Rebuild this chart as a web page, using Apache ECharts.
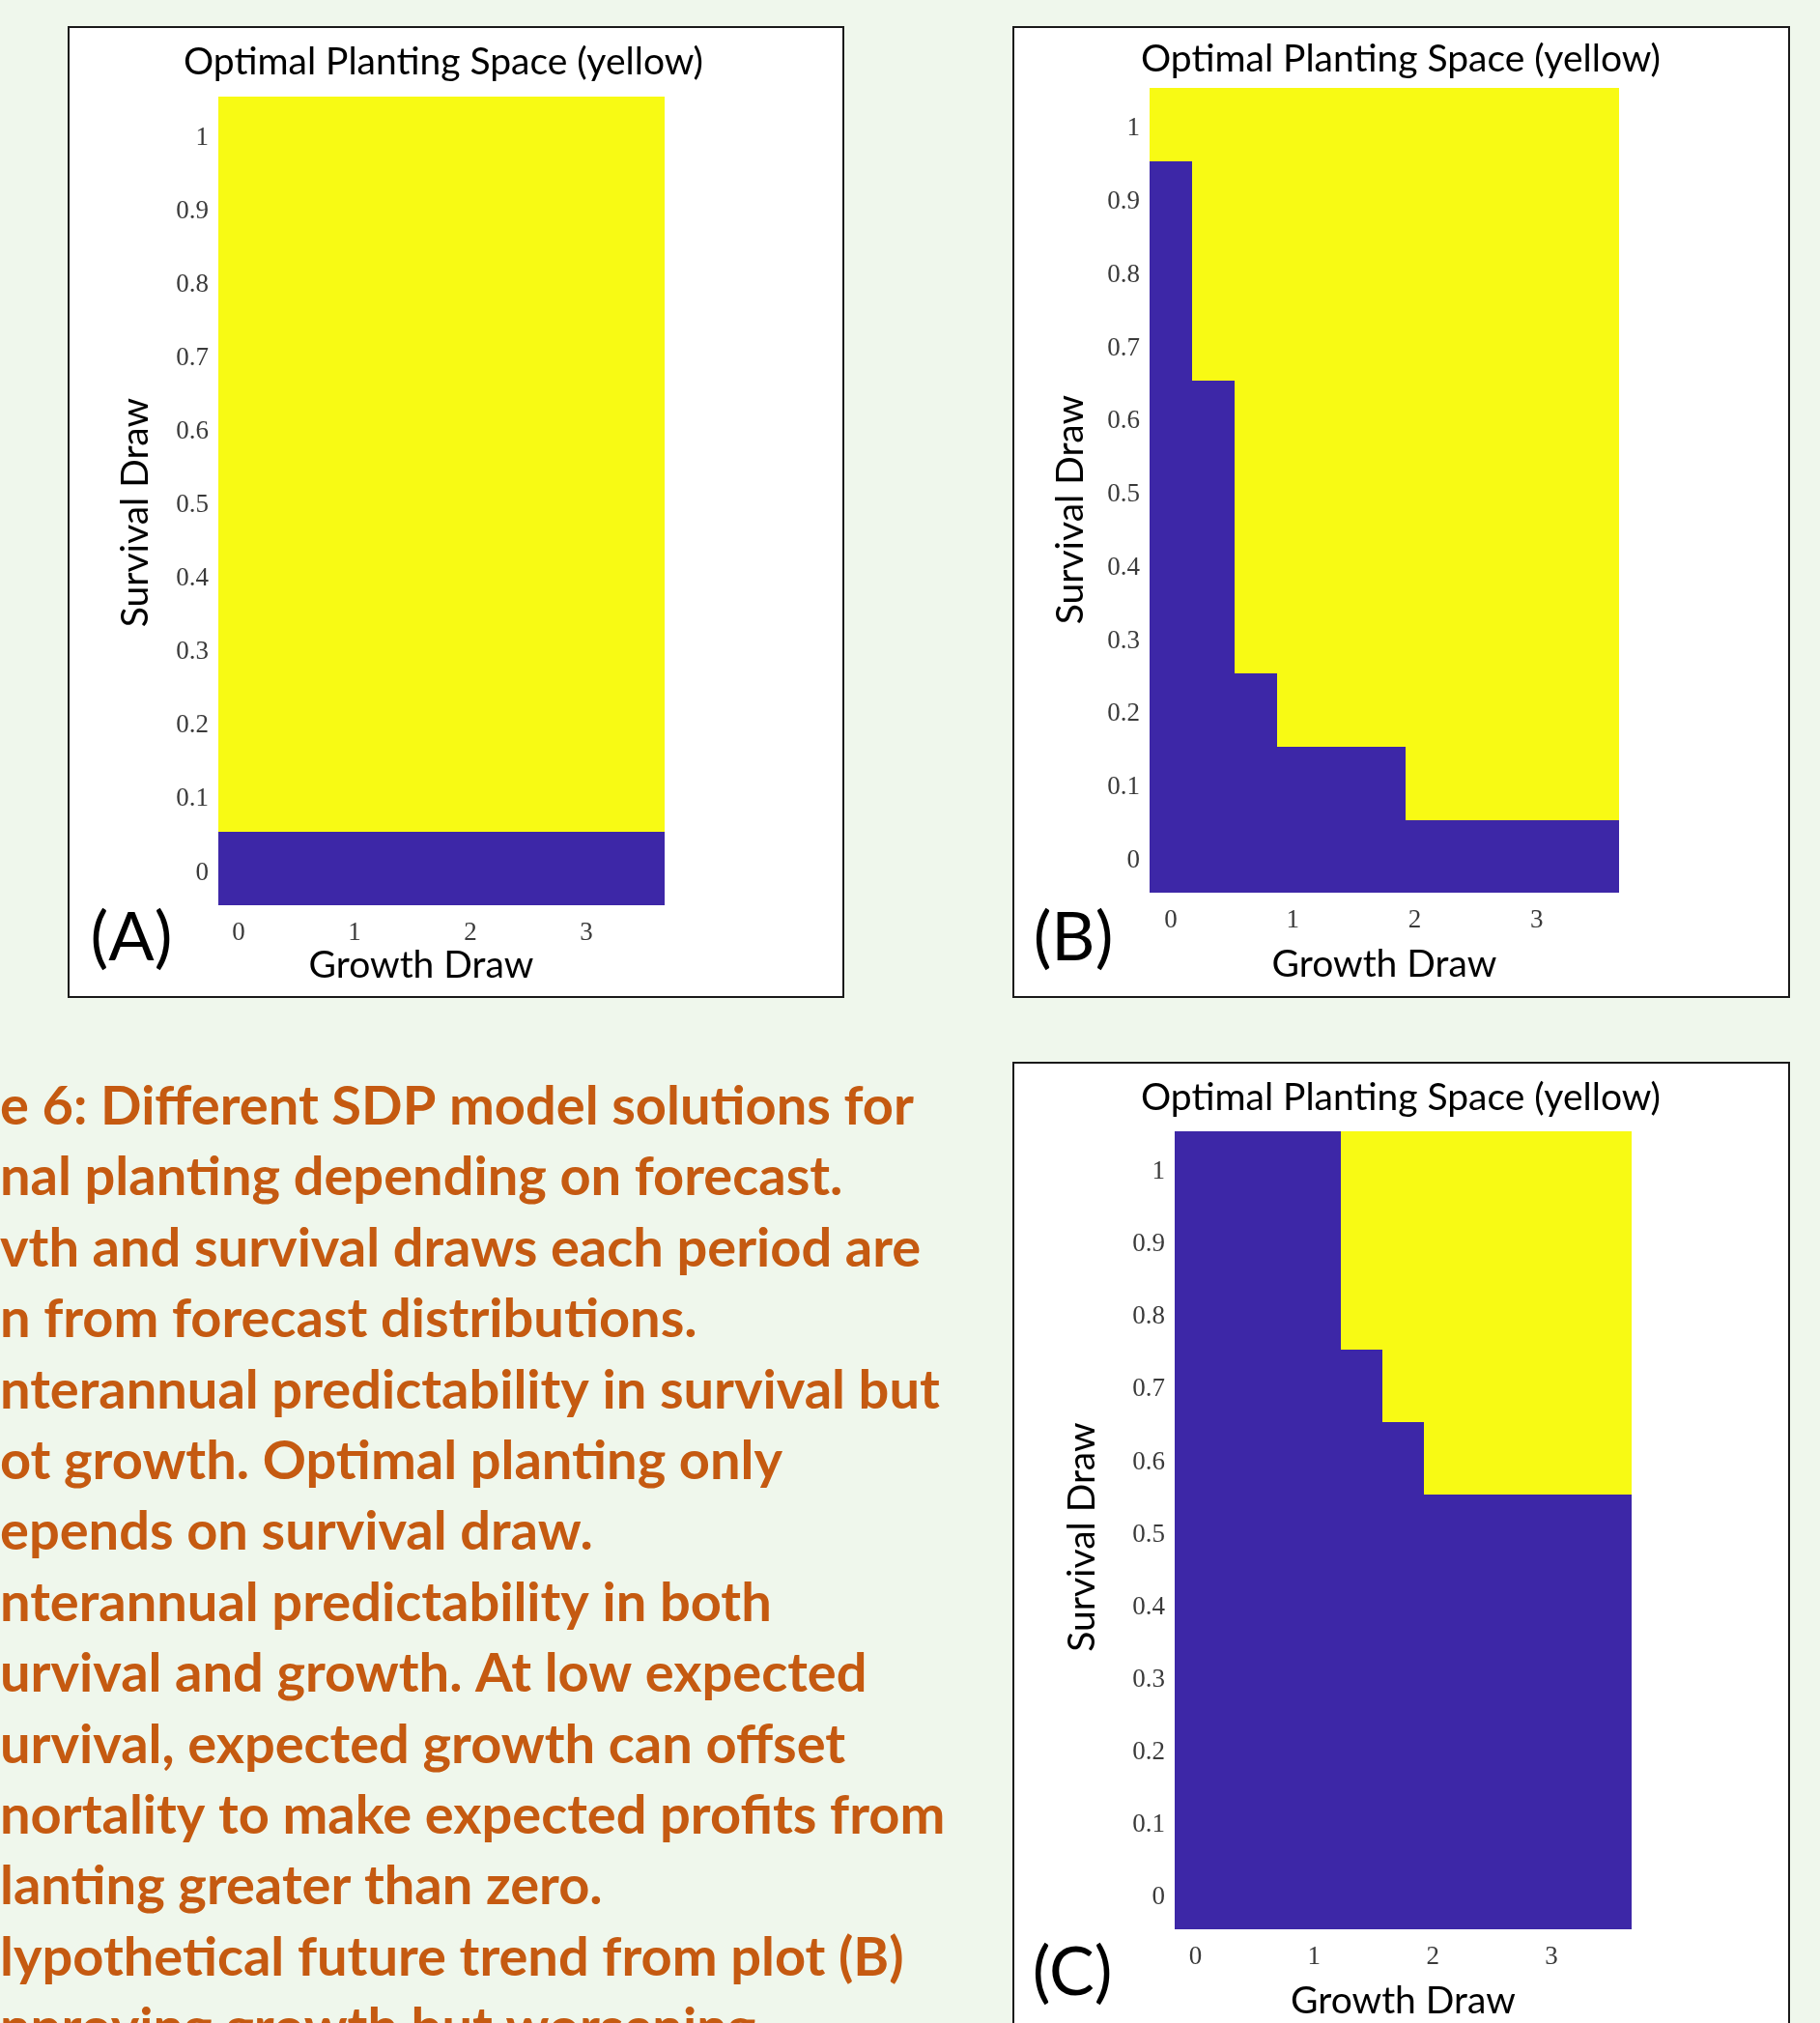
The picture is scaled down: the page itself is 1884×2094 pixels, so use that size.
<!DOCTYPE html>
<html>
<head>
<meta charset="utf-8">
<script src="https://cdn.jsdelivr.net/npm/echarts@6/dist/echarts.min.js"></script>
<style>
  html, body { margin: 0; padding: 0; background: #eff7ec; }
  #chart { width: 1884px; height: 2094px; }
</style>
</head>
<body>
<div id="chart"></div>
<script>
// grid of forecast draws (cell centres)
const growthDraws = [0, 0.35, 0.7, 1.05, 1.4, 1.75, 2.1, 2.45, 2.8, 3.15, 3.5];
const survivalDraws = [0, 0.1, 0.2, 0.3, 0.4, 0.5, 0.6, 0.7, 0.8, 0.9, 1];

// lowest survival draw at which planting is optimal, one per growth column (null = never)
const thresholdA = [0.1, 0.1, 0.1, 0.1, 0.1, 0.1, 0.1, 0.1, 0.1, 0.1, 0.1];
const thresholdB = [1.0, 0.7, 0.3, 0.2, 0.2, 0.2, 0.1, 0.1, 0.1, 0.1, 0.1];
const thresholdC = [null, null, null, null, 0.8, 0.7, 0.6, 0.6, 0.6, 0.6, 0.6];

const xTicks = [0, 1, 2, 3];
const yTicks = [0, 0.1, 0.2, 0.3, 0.4, 0.5, 0.6, 0.7, 0.8, 0.9, 1];

const captionLines = [
  "e 6: Different SDP model solutions for",
  "nal planting depending on forecast.",
  "vth and survival draws each period are",
  "n from forecast distributions.",
  "nterannual predictability in survival but",
  "ot growth. Optimal planting only",
  "epends on survival draw.",
  "nterannual predictability in both",
  "urvival and growth. At low expected",
  "urvival, expected growth can offset",
  "nortality to make expected profits from",
  "lanting greater than zero.",
  "lypothetical future trend from plot (B)",
  "nproving growth but worsening"
];

const BLUE = "#3d27a7";
const YELLOW = "#f8fa14";
const cellW = 0.35, cellH = 0.1;

function buildCells(thresholds) {
  const out = [];
  growthDraws.forEach((g, i) => {
    const t = thresholds[i];
    survivalDraws.forEach((s) => {
      const plant = t !== null && s >= t - 1e-9 ? 1 : 0;
      out.push([g, s, plant]);
    });
  });
  return out;
}

function renderCell(params, api) {
  const x = api.value(0), y = api.value(1);
  const p0 = api.coord([x - cellW / 2, y + cellH / 2]);
  const p1 = api.coord([x + cellW / 2, y - cellH / 2]);
  const x0 = Math.floor(p0[0]), y0 = Math.floor(p0[1]);
  return {
    type: "rect",
    shape: { x: x0, y: y0, width: Math.ceil(p1[0]) - x0, height: Math.ceil(p1[1]) - y0 },
    style: { fill: api.value(2) ? YELLOW : BLUE }
  };
}

const panels = [
  { label: "(A)", data: thresholdA, box: [71, 28, 802, 1004], grid: [226, 100, 462, 837],
    title: [459, 64], tag: [136, 971], yGap: 66, yPad: [0, 24, 0, 0], xGap: 43, xPad: [0, 42, 0, 0] },
  { label: "(B)", data: thresholdB, box: [1049, 28, 803, 1004], grid: [1190, 91, 486, 833],
    title: [1450, 61], tag: [1111, 971], yGap: 62, yPad: [0, 40, 0, 0], xGap: 55, xPad: [0, 0, 0, 0] },
  { label: "(C)", data: thresholdC, box: [1049, 1100, 803, 1030], grid: [1216, 1171, 473, 826],
    title: [1450, 1136], tag: [1110, 2042], yGap: 76, yPad: [0, 14, 0, 0], xGap: 55, xPad: [0, 0, 0, 0] }
];

const tickStyle = { fontFamily: "Liberation Serif", fontSize: 27, color: "#3a3a3a" };
const nameStyle = { fontFamily: "Lato", fontSize: 39, color: "#000" };

const graphics = [];
panels.forEach((p) => {
  graphics.push({
    type: "rect", z: -10,
    shape: { x: p.box[0], y: p.box[1], width: p.box[2], height: p.box[3] },
    style: { fill: "#fff", stroke: "#1a1a1a", lineWidth: 2 }
  });
  graphics.push({
    type: "text", z: 10, x: p.title[0], y: p.title[1],
    style: { text: "Optimal Planting Space (yellow)", font: "39px Lato", fill: "#000",
             textAlign: "center", textVerticalAlign: "middle" }
  });
  graphics.push({
    type: "text", z: 10, x: p.tag[0], y: p.tag[1],
    style: { text: p.label, font: "70px Lato", fill: "#000",
             textAlign: "center", textVerticalAlign: "middle" }
  });
});
captionLines.forEach((line, i) => {
  graphics.push({
    type: "text", z: 10, x: 0, y: 1146 + i * 73.4,
    style: { text: line, font: "bold 56px Lato", fill: "#c55a11", textVerticalAlign: "middle" }
  });
});

const chart = echarts.init(document.getElementById("chart"));
chart.setOption({
  animation: false,
  backgroundColor: "#eff7ec",
  graphic: graphics,
  grid: panels.map((p) => ({
    left: p.grid[0], top: p.grid[1], width: p.grid[2], height: p.grid[3], containLabel: false
  })),
  xAxis: panels.map((p, i) => ({
    gridIndex: i, type: "value", min: -0.175, max: 3.675,
    name: "Growth Draw", nameLocation: "middle", nameGap: p.xGap,
    nameTextStyle: Object.assign({ padding: p.xPad }, nameStyle),
    axisLine: { show: false }, axisTick: { show: false }, splitLine: { show: false },
    axisLabel: Object.assign({ customValues: xTicks, margin: 15 }, tickStyle)
  })),
  yAxis: panels.map((p, i) => ({
    gridIndex: i, type: "value", min: -0.05, max: 1.05,
    name: "Survival Draw", nameLocation: "middle", nameRotate: 90, nameGap: p.yGap,
    nameTextStyle: Object.assign({ padding: p.yPad }, nameStyle),
    axisLine: { show: false }, axisTick: { show: false }, splitLine: { show: false },
    axisLabel: Object.assign({
      customValues: yTicks, margin: 10,
      formatter: (v) => "{t|" + v + "}",
      rich: { t: Object.assign({ padding: [9, 0, 0, 0] }, tickStyle) }
    }, tickStyle)
  })),
  series: panels.map((p, i) => ({
    type: "custom", xAxisIndex: i, yAxisIndex: i,
    renderItem: renderCell, data: buildCells(p.data)
  }))
});
</script>
</body>
</html>
